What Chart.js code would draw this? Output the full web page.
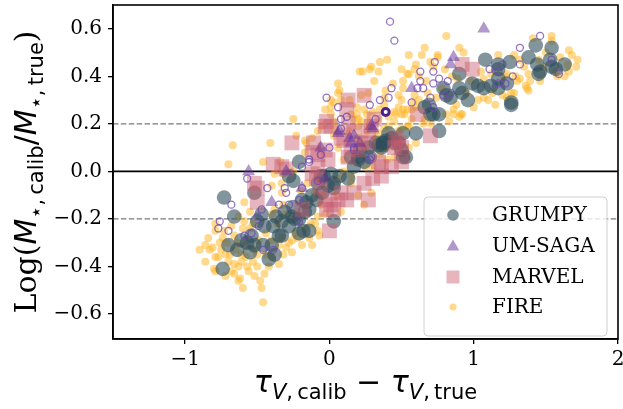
<!DOCTYPE html>
<html>
<head>
<meta charset="utf-8">
<script src="https://cdn.jsdelivr.net/npm/chart.js@4.4.0/dist/chart.umd.min.js"></script>
<style>
  html, body { margin: 0; padding: 0; background: #fff; }
  #wrap { width: 623px; height: 409px; }
</style>
</head>
<body>
<div id="wrap"><canvas id="chart" width="623" height="409"></canvas></div>
<script>
// tick positions
const xTicks = [-1, 0, 1, 2];
const yTicks = [-0.6, -0.4, -0.2, 0.0, 0.2, 0.4, 0.6];
const legendNames = ['GRUMPY', 'UM-SAGA', 'MARVEL', 'FIRE'];

// GRUMPY (x = tau_V calib - true, y = log mass ratio)
const grumpy = [
  [-0.73,-0.11],[-0.52,-0.09],[-0.66,-0.19],[-0.61,-0.29],[-0.70,-0.31],[-0.55,-0.34],[-0.74,-0.41],
  [-0.54,-0.27],[-0.47,-0.18],[-0.45,-0.23],[-0.39,-0.23],[-0.46,-0.31],[-0.42,-0.37],[-0.38,-0.35],
  [-0.50,-0.21],[-0.52,-0.31],[-0.40,-0.31],[-0.35,-0.27],[-0.33,-0.27],[-0.28,-0.23],[-0.26,-0.19],
  [-0.21,-0.20],[-0.17,-0.17],[-0.21,-0.26],[-0.14,-0.25],[-0.18,-0.25],[-0.24,-0.20],[-0.31,-0.17],
  [-0.37,-0.19],[-0.25,-0.15],[-0.14,-0.16],[-0.09,-0.12],[-0.25,-0.04],[-0.21,0.04],[-0.28,-0.02],
  [-0.19,-0.12],[-0.16,-0.13],[-0.12,-0.10],[-0.08,-0.05],[-0.06,-0.02],[-0.04,-0.02],[0.01,-0.01],
  [-0.01,-0.06],[0.03,-0.05],[0.03,-0.07],[0.03,-0.21],[0.13,-0.03],[0.17,0.02],[0.15,0.06],[0.20,0.05],
  [0.20,0.06],[0.28,0.06],[0.27,0.10],[0.21,0.09],[0.32,0.12],[0.34,0.11],[0.36,0.10],[0.37,0.12],
  [0.38,0.12],[0.41,0.16],[0.43,0.14],[0.45,0.12],[0.48,0.12],[0.50,0.09],[0.51,0.06],[0.53,0.06],
  [0.51,0.16],[0.60,0.16],[0.76,0.17],[0.66,0.27],[0.69,0.28],[0.70,0.24],[0.72,0.24],[0.76,0.24],
  [0.79,0.35],[0.81,0.32],[0.84,0.31],[0.90,0.41],[0.90,0.35],[0.92,0.33],[0.96,0.30],[0.99,0.37],
  [1.03,0.36],[1.07,0.35],[1.12,0.36],[1.17,0.39],[1.17,0.35],[1.23,0.37],[1.26,0.29],[1.26,0.28],
  [1.08,0.47],[1.17,0.45],[1.17,0.43],[1.25,0.46],[1.38,0.48],[1.43,0.53],[1.54,0.52],[1.44,0.45],
  [1.46,0.42],[1.45,0.41],[1.53,0.47],[1.54,0.44],[1.63,0.45],[1.57,0.43],[0.37,0.11],[0.39,0.13],
  [-0.05,-0.09],[0.07,-0.02],[0.24,0.04],[-0.33,-0.21],[-0.57,-0.30],[-0.64,-0.33]
];

// UM-SAGA filled triangles
const umsaga = [
  [-0.56,0.00],[-0.30,0.00],[-0.19,-0.07],[-0.40,-0.13],[-0.06,0.10],[-0.03,-0.03],[0.06,0.16],
  [0.07,0.17],[0.14,0.14],[0.15,0.12],[0.17,0.15],[0.21,0.12],[0.29,0.19],[0.30,0.18],[0.57,0.35],
  [0.84,0.45],[0.86,0.48],[1.07,0.60]
];

// UM-SAGA open circles
const umsagaOpen = [
  [0.42,0.63],[0.45,0.55],[0.73,0.46],[0.72,0.42],[0.63,0.42],[0.63,0.38],[0.76,0.39],[0.72,0.37],
  [0.82,0.38],[0.43,0.35],[0.41,0.31],[0.35,0.30],[0.28,0.28],[0.61,0.35],[0.65,0.35],[0.57,0.29],
  [-0.02,0.31],[0.06,0.27],[0.08,0.22],[0.12,0.23],[0.32,0.22],[0.72,0.27],[0.70,0.31],[0.79,0.32],
  [0.84,0.33],[0.08,0.18],[0.00,0.10],[-0.06,0.07],[-0.14,0.04],[-0.19,0.02],[0.17,0.10],[0.28,0.05],
  [1.46,0.57],[1.32,0.52],[1.32,0.45],[1.11,0.43],[1.17,0.42],[1.20,0.45],[1.27,0.40],[1.22,0.37],
  [1.17,0.37],[1.54,0.47],[1.59,0.41],[-0.57,-0.03],[-0.43,-0.07],[-0.31,-0.07],[-0.30,-0.09],
  [-0.68,-0.14],[-0.19,-0.07],[-0.35,-0.14],[-0.47,-0.16],[-0.50,-0.19],[-0.76,-0.21],[-0.77,-0.24],
  [-0.70,-0.25],[-0.59,-0.27],[-0.54,-0.26],[-0.49,-0.23],[-0.46,-0.33],[-0.39,-0.33],[-0.28,-0.14],
  [-0.21,-0.12],[-0.14,0.05],[-0.08,-0.04],[0.29,0.06],[0.17,0.09],[-0.21,-0.21]
];
const umsagaDark = [[0.39,0.25]];

// MARVEL squares
const marvel = [
  [-0.52,-0.05],[-0.50,-0.13],[-0.50,-0.07],[-0.39,0.03],[-0.33,0.02],[-0.30,0.01],[-0.26,0.12],
  [-0.11,0.12],[-0.12,0.08],[-0.08,0.07],[-0.03,0.09],[-0.01,0.05],[-0.03,0.19],[-0.02,0.21],
  [-0.08,0.02],[-0.09,-0.03],[-0.12,-0.01],[-0.19,-0.16],[-0.06,-0.07],[-0.03,-0.12],[0.01,-0.14],
  [-0.02,-0.16],[0.03,-0.16],[0.06,-0.12],[0.08,-0.09],[0.00,-0.25],[0.12,-0.12],[0.17,-0.09],
  [0.27,-0.12],[0.24,-0.05],[0.30,-0.03],[0.36,-0.02],[0.34,0.04],[0.36,0.02],[0.43,0.02],[0.50,0.04],
  [0.13,0.06],[0.10,0.13],[0.15,0.10],[0.20,0.09],[0.22,0.12],[0.27,0.12],[0.01,0.19],[0.08,0.14],
  [0.13,0.20],[0.17,0.17],[0.27,0.17],[0.29,0.19],[0.45,0.10],[0.48,0.12],[0.50,0.10],[0.46,0.14],
  [0.70,0.15],[0.61,0.24],[0.24,0.32],[0.13,0.30],[0.12,0.26],[0.31,0.22],[0.92,0.45],[0.99,0.43]
];

// FIRE small dots
const fire = [
  [-0.70,0.03],[-0.67,0.11],[-0.46,0.04],[-0.34,0.04],[-0.41,0.12],[-0.25,0.22],[-0.23,0.15],
  [-0.17,0.13],[-0.12,0.14],[-0.17,0.08],[-0.16,0.12],[-0.40,-0.06],[-0.33,-0.05],[-0.33,-0.09],
  [-0.32,-0.01],[-0.38,-0.01],[-0.59,-0.13],[-0.55,-0.17],[-0.59,-0.21],[-0.63,-0.19],[-0.68,-0.23],
  [-0.90,-0.33],[-0.86,-0.38],[-0.83,-0.33],[-0.80,-0.41],[-0.77,-0.36],[-0.72,-0.35],[-0.70,-0.38],
  [-0.66,-0.39],[-0.61,-0.38],[-0.68,-0.42],[-0.63,-0.40],[-0.63,-0.46],[-0.62,-0.45],[-0.48,-0.46],
  [-0.56,-0.42],[-0.42,-0.40],[-0.35,-0.39],[-0.32,-0.35],[-0.26,-0.34],[-0.26,-0.29],[-0.19,-0.31],
  [-0.12,-0.31],[-0.14,-0.28],[-0.08,-0.25],[-0.07,-0.27],[-0.40,-0.29],[-0.35,-0.31],[-0.33,-0.28],
  [-0.49,-0.29],[-0.52,-0.33],[-0.40,-0.18],[-0.38,-0.16],[-0.32,-0.14],[-0.30,-0.18],[-0.10,-0.09],
  [-0.06,-0.14],[0.06,-0.03],[0.10,0.00],[0.20,-0.10],[0.29,-0.09],[0.24,-0.14],[-0.46,-0.55],
  [-0.81,-0.32],[-0.79,-0.36],[-0.79,-0.42],[-0.79,-0.22],[-0.79,-0.25],[-0.74,-0.28],[-0.71,-0.30],
  [-0.65,-0.33],[-0.58,-0.36],[-0.53,-0.38],[-0.50,-0.40],[-0.45,-0.43],[-0.58,-0.31],[-0.55,-0.24],
  [-0.50,-0.35],[-0.44,-0.35],[-0.76,-0.30],[-0.84,-0.28],[-0.73,-0.25],[-0.66,-0.27],[-0.60,-0.24],
  [-0.53,-0.22],[-0.44,-0.26],[-0.36,-0.22],[-0.28,-0.30],[-0.22,-0.28],[-0.47,-0.49],[-0.60,-0.49],
  [-0.72,-0.44],[-0.66,-0.43],[-0.57,-0.40],[-0.52,-0.44],[-0.40,-0.36],[-0.30,-0.32],[-0.24,-0.26],
  [-0.17,-0.24],[-0.10,-0.22],[-0.86,-0.31],[-0.75,-0.33],[-0.69,-0.35],[-0.61,-0.35],[-0.64,-0.30],
  [0.06,0.37],[0.07,0.34],[0.06,0.33],[0.08,0.30],[0.03,0.29],[0.01,0.27],[0.14,0.30],[0.01,0.30],
  [0.22,0.32],[0.27,0.33],[0.48,0.32],[0.51,0.35],[0.62,0.40],[0.67,0.38],[0.89,0.39],[0.98,0.38],
  [1.03,0.30],[0.48,0.27],[0.51,0.26],[0.57,0.26],[0.58,0.29],[0.59,0.32],[0.19,0.27],[0.24,0.26],
  [0.46,0.24],[0.45,0.21],[0.41,0.23],[0.86,0.26],[0.92,0.24],[0.90,0.23],[0.81,0.24],[0.83,0.21],
  [0.34,0.22],[0.27,0.21],[0.15,0.24],[0.20,0.22],[0.54,0.19],[0.50,0.18],[0.03,0.21],
  [0.81,0.57],[0.66,0.52],[0.90,0.52],[0.64,0.49],[0.55,0.49],[0.75,0.49],[0.93,0.50],[0.35,0.46],
  [0.40,0.47],[0.29,0.44],[0.23,0.42],[0.21,0.42],[0.34,0.42],[0.50,0.43],[0.60,0.45],[0.70,0.46],
  [0.31,0.38],[0.55,0.41],[0.51,0.38],[0.44,0.37],[0.39,0.34],[0.38,0.31],[0.28,0.43],[0.54,0.41],
  [0.59,0.43],[0.45,0.25],[0.50,0.24],[0.54,0.26],[0.50,0.30],[0.19,0.24],[0.22,0.21],[0.20,0.19],
  [0.41,0.19],[0.28,0.19],[0.26,0.17],[0.13,0.17],[0.20,0.14],[0.22,0.12],[0.04,0.18],[0.03,0.15],
  [-0.08,0.17],[-0.05,0.19],[0.43,0.15],[0.48,0.17],[0.55,0.19],[0.57,0.22],[0.52,0.24],[0.65,0.20],
  [-0.03,0.26],[0.01,0.24],[0.06,0.10],[0.17,0.22],[0.26,0.24],[0.30,0.25],[0.35,0.26],[0.38,0.28],
  [1.41,0.56],[1.54,0.57],[1.54,0.55],[1.66,0.51],[1.68,0.49],[1.72,0.47],[1.71,0.44],[1.65,0.45],
  [1.66,0.42],[1.17,0.49],[1.28,0.49],[1.32,0.47],[1.38,0.41],[1.39,0.38],[1.46,0.38],[1.32,0.39],
  [1.36,0.36],[1.38,0.34],[1.57,0.42],[1.58,0.40],[1.63,0.40],[1.07,0.31],[1.10,0.30],[1.15,0.28],
  [1.28,0.33],[1.26,0.33],[1.23,0.31],[1.05,0.42],[1.07,0.39],[1.29,0.40],[1.30,0.38],[1.21,0.40],
  [1.23,0.41],[0.86,0.24],[0.91,0.24],[1.37,0.35],[0.75,0.48],[0.72,0.44],[0.80,0.43],[0.85,0.40],
  [0.78,0.35],[0.74,0.31],[0.68,0.33],[0.95,0.33],[1.00,0.27],[0.88,0.28],[0.62,0.30],[0.66,0.22],
  [0.70,0.20],[0.60,0.27],[1.13,0.33],[1.20,0.32],[1.48,0.44],[1.50,0.50],[1.60,0.48],[1.45,0.47],
  [1.35,0.44],[1.12,0.41],[0.10,0.05],[0.15,-0.02],[0.25,0.02],[0.35,0.07],[0.40,0.05],[-0.05,-0.10],
  [0.05,-0.10],[0.15,-0.05],[-0.15,-0.05],[-0.20,-0.08],[-0.25,0.00],[0.32,0.14],[0.38,0.18],
  [-0.08,-0.19],[-0.03,-0.18],[0.08,-0.17],[-0.13,-0.22],[0.30,0.02],[0.45,0.06],[0.55,0.10],
  [0.60,0.12],[0.40,0.10],[0.34,0.16]
];

const toXY = arr => arr.map(p => ({ x: p[0], y: p[1] }));

const colGrumpy = 'rgba(47,79,90,0.6)';
const colSaga = 'rgba(102,51,153,0.5)';
const colSagaRing = 'rgba(110,70,175,0.75)';
const colMarvel = 'rgba(200,90,110,0.45)';
const colFire = 'rgba(255,180,30,0.5)';

const minus = s => String(s).replace('-', '\u2212');

// reference lines, frame, titles and legend
const decor = {
  id: 'decor',
  beforeLayout(chart) {
    // no extra room for the edge tick labels, like matplotlib
    Object.values(chart.scales).forEach(s => {
      s.getPadding = () => ({ left: 0, right: 0, top: 0, bottom: 0 });
    });
  },
  beforeDatasetsDraw(chart) {
    const { ctx, chartArea: a, scales: { y } } = chart;
    ctx.save();
    ctx.lineWidth = 1.3;
    ctx.strokeStyle = '#7a7a7a';
    ctx.setLineDash([5.5, 2.4]);
    [0.2, -0.2].forEach(v => {
      const py = y.getPixelForValue(v);
      ctx.beginPath(); ctx.moveTo(a.left, py); ctx.lineTo(a.right, py); ctx.stroke();
    });
    ctx.setLineDash([]);
    ctx.lineWidth = 1.8;
    ctx.strokeStyle = '#000';
    const p0 = y.getPixelForValue(0);
    ctx.beginPath(); ctx.moveTo(a.left, p0); ctx.lineTo(a.right, p0); ctx.stroke();
    ctx.restore();
  },
  afterDraw(chart) {
    const { ctx, chartArea: a } = chart;
    ctx.save();
    ctx.lineWidth = 1.6;
    ctx.strokeStyle = '#000';
    ctx.strokeRect(a.left, a.top, a.right - a.left, a.bottom - a.top);

    // axis titles
    const big = 'italic 30px "DejaVu Sans"';
    const serif = '30px "DejaVu Serif"';
    const sub = '21px "DejaVu Sans"';
    const subIt = 'italic 21px "DejaVu Sans"';
    const plain = '30px "DejaVu Sans"';
    const yParts = [
      { t: 'Log(', f: serif }, { t: 'M', f: big },
      { t: '\u22c6,\u2009calib', f: sub, dy: 7 }, { t: '/', f: plain }, { t: 'M', f: big },
      { t: '\u22c6,\u2009true', f: sub, dy: 7 }, { t: ')', f: serif }
    ];
    const xParts = [
      { t: '\u03c4', f: big }, { t: 'V', f: subIt, dy: 7 }, { t: ',\u2009calib', f: sub, dy: 7 },
      { t: ' \u2212 ', f: plain },
      { t: '\u03c4', f: big }, { t: 'V', f: subIt, dy: 7 }, { t: ',\u2009true', f: sub, dy: 7 }
    ];
    const rich = (parts, cx, base) => {
      let w = 0;
      parts.forEach(p => { ctx.font = p.f; p.w = ctx.measureText(p.t).width; w += p.w; });
      let x = cx - w / 2;
      ctx.fillStyle = '#000';
      ctx.textBaseline = 'alphabetic';
      ctx.textAlign = 'left';
      parts.forEach(p => { ctx.font = p.f; ctx.fillText(p.t, x, base + (p.dy || 0)); x += p.w; });
    };
    rich(xParts, (a.left + a.right) / 2, 392);
    ctx.save();
    ctx.translate(36, (a.top + a.bottom) / 2);
    ctx.rotate(-Math.PI / 2);
    rich(yParts, 0, 0);
    ctx.restore();

    // legend box
    const bx = 424, by = 197, bw = 183, bh = 139, r = 4;
    ctx.beginPath();
    ctx.moveTo(bx + r, by);
    ctx.arcTo(bx + bw, by, bx + bw, by + bh, r);
    ctx.arcTo(bx + bw, by + bh, bx, by + bh, r);
    ctx.arcTo(bx, by + bh, bx, by, r);
    ctx.arcTo(bx, by, bx + bw, by, r);
    ctx.closePath();
    ctx.fillStyle = 'rgba(255,255,255,0.8)';
    ctx.fill();
    ctx.lineWidth = 1;
    ctx.strokeStyle = '#d0d0d0';
    ctx.stroke();

    const rows = [215, 246, 277, 307];
    const mx = 453;
    // GRUMPY
    ctx.fillStyle = colGrumpy;
    ctx.beginPath(); ctx.arc(mx, rows[0], 5.8, 0, Math.PI * 2); ctx.fill();
    // UM-SAGA
    ctx.fillStyle = colSaga;
    ctx.beginPath();
    ctx.moveTo(mx, rows[1] - 6.5); ctx.lineTo(mx + 6.3, rows[1] + 4.5); ctx.lineTo(mx - 6.3, rows[1] + 4.5);
    ctx.closePath(); ctx.fill();
    // MARVEL
    ctx.fillStyle = colMarvel;
    ctx.fillRect(mx - 6.5, rows[2] - 6.5, 13, 13);
    // FIRE
    ctx.fillStyle = colFire;
    ctx.beginPath(); ctx.arc(mx, rows[3], 3.6, 0, Math.PI * 2); ctx.fill();

    ctx.fillStyle = '#000';
    ctx.font = '20px "DejaVu Serif"';
    ctx.textBaseline = 'middle';
    legendNames.forEach((n, i) => ctx.fillText(n, 492, rows[i] + 1));
    ctx.restore();
  }
};

new Chart(document.getElementById('chart'), {
  type: 'scatter',
  data: {
    datasets: [
      { label: 'UM-SAGA open', data: toXY(umsagaDark), pointRadius: 3.5, pointBorderWidth: 3,
        pointBackgroundColor: 'rgba(0,0,0,0)', pointBorderColor: 'rgba(75,35,140,1)' },
      { label: 'UM-SAGA open', data: toXY(umsagaOpen), pointRadius: 3.5, pointBorderWidth: 1.3,
        pointBackgroundColor: 'rgba(0,0,0,0)', pointBorderColor: colSagaRing },
      { label: 'UM-SAGA', data: toXY(umsaga), pointStyle: 'triangle', pointRadius: 7.5,
        pointBorderWidth: 0, pointBackgroundColor: colSaga, pointBorderColor: 'rgba(0,0,0,0)' },
      { label: 'MARVEL', data: toXY(marvel), pointStyle: 'rect', pointRadius: 10.5,
        pointBorderWidth: 0, pointBackgroundColor: colMarvel, pointBorderColor: 'rgba(0,0,0,0)' },
      { label: 'GRUMPY', data: toXY(grumpy), pointRadius: 7.3,
        pointBorderWidth: 0, pointBackgroundColor: colGrumpy, pointBorderColor: 'rgba(0,0,0,0)' },
      { label: 'FIRE', data: toXY(fire), pointRadius: 4,
        pointBorderWidth: 0, pointBackgroundColor: colFire, pointBorderColor: 'rgba(0,0,0,0)' }
    ]
  },
  options: {
    responsive: false,
    animation: false,
    devicePixelRatio: 1,
    events: [],
    layout: { autoPadding: false, padding: { left: 0, right: 5, top: 5, bottom: 0 } },
    plugins: { legend: { display: false }, tooltip: { enabled: false } },
    scales: {
      x: {
        type: 'linear', min: -1.5, max: 2.0,
        afterBuildTicks: s => { s.ticks = xTicks.map(v => ({ value: v })); },
        afterFit: s => { s.height = 70; },
        ticks: {
          color: '#000', padding: 4, maxRotation: 0,
          font: { family: 'DejaVu Serif', size: 20 },
          callback: v => minus(v)
        },
        grid: { drawOnChartArea: false, drawTicks: true, tickLength: 5, color: '#000', lineWidth: 1.3 },
        border: { display: true, color: '#000', width: 1.6 }
      },
      y: {
        type: 'linear', min: -0.705, max: 0.70,
        afterBuildTicks: s => { s.ticks = yTicks.map(v => ({ value: v })); },
        afterFit: s => { s.width = 113; },
        ticks: {
          color: '#000', padding: 6,
          font: { family: 'DejaVu Serif', size: 20 },
          callback: v => minus(Number(v).toFixed(1))
        },
        grid: { drawOnChartArea: false, drawTicks: true, tickLength: 5, color: '#000', lineWidth: 1.3 },
        border: { display: true, color: '#000', width: 1.6 }
      }
    }
  },
  plugins: [decor]
});
</script>
</body>
</html>
